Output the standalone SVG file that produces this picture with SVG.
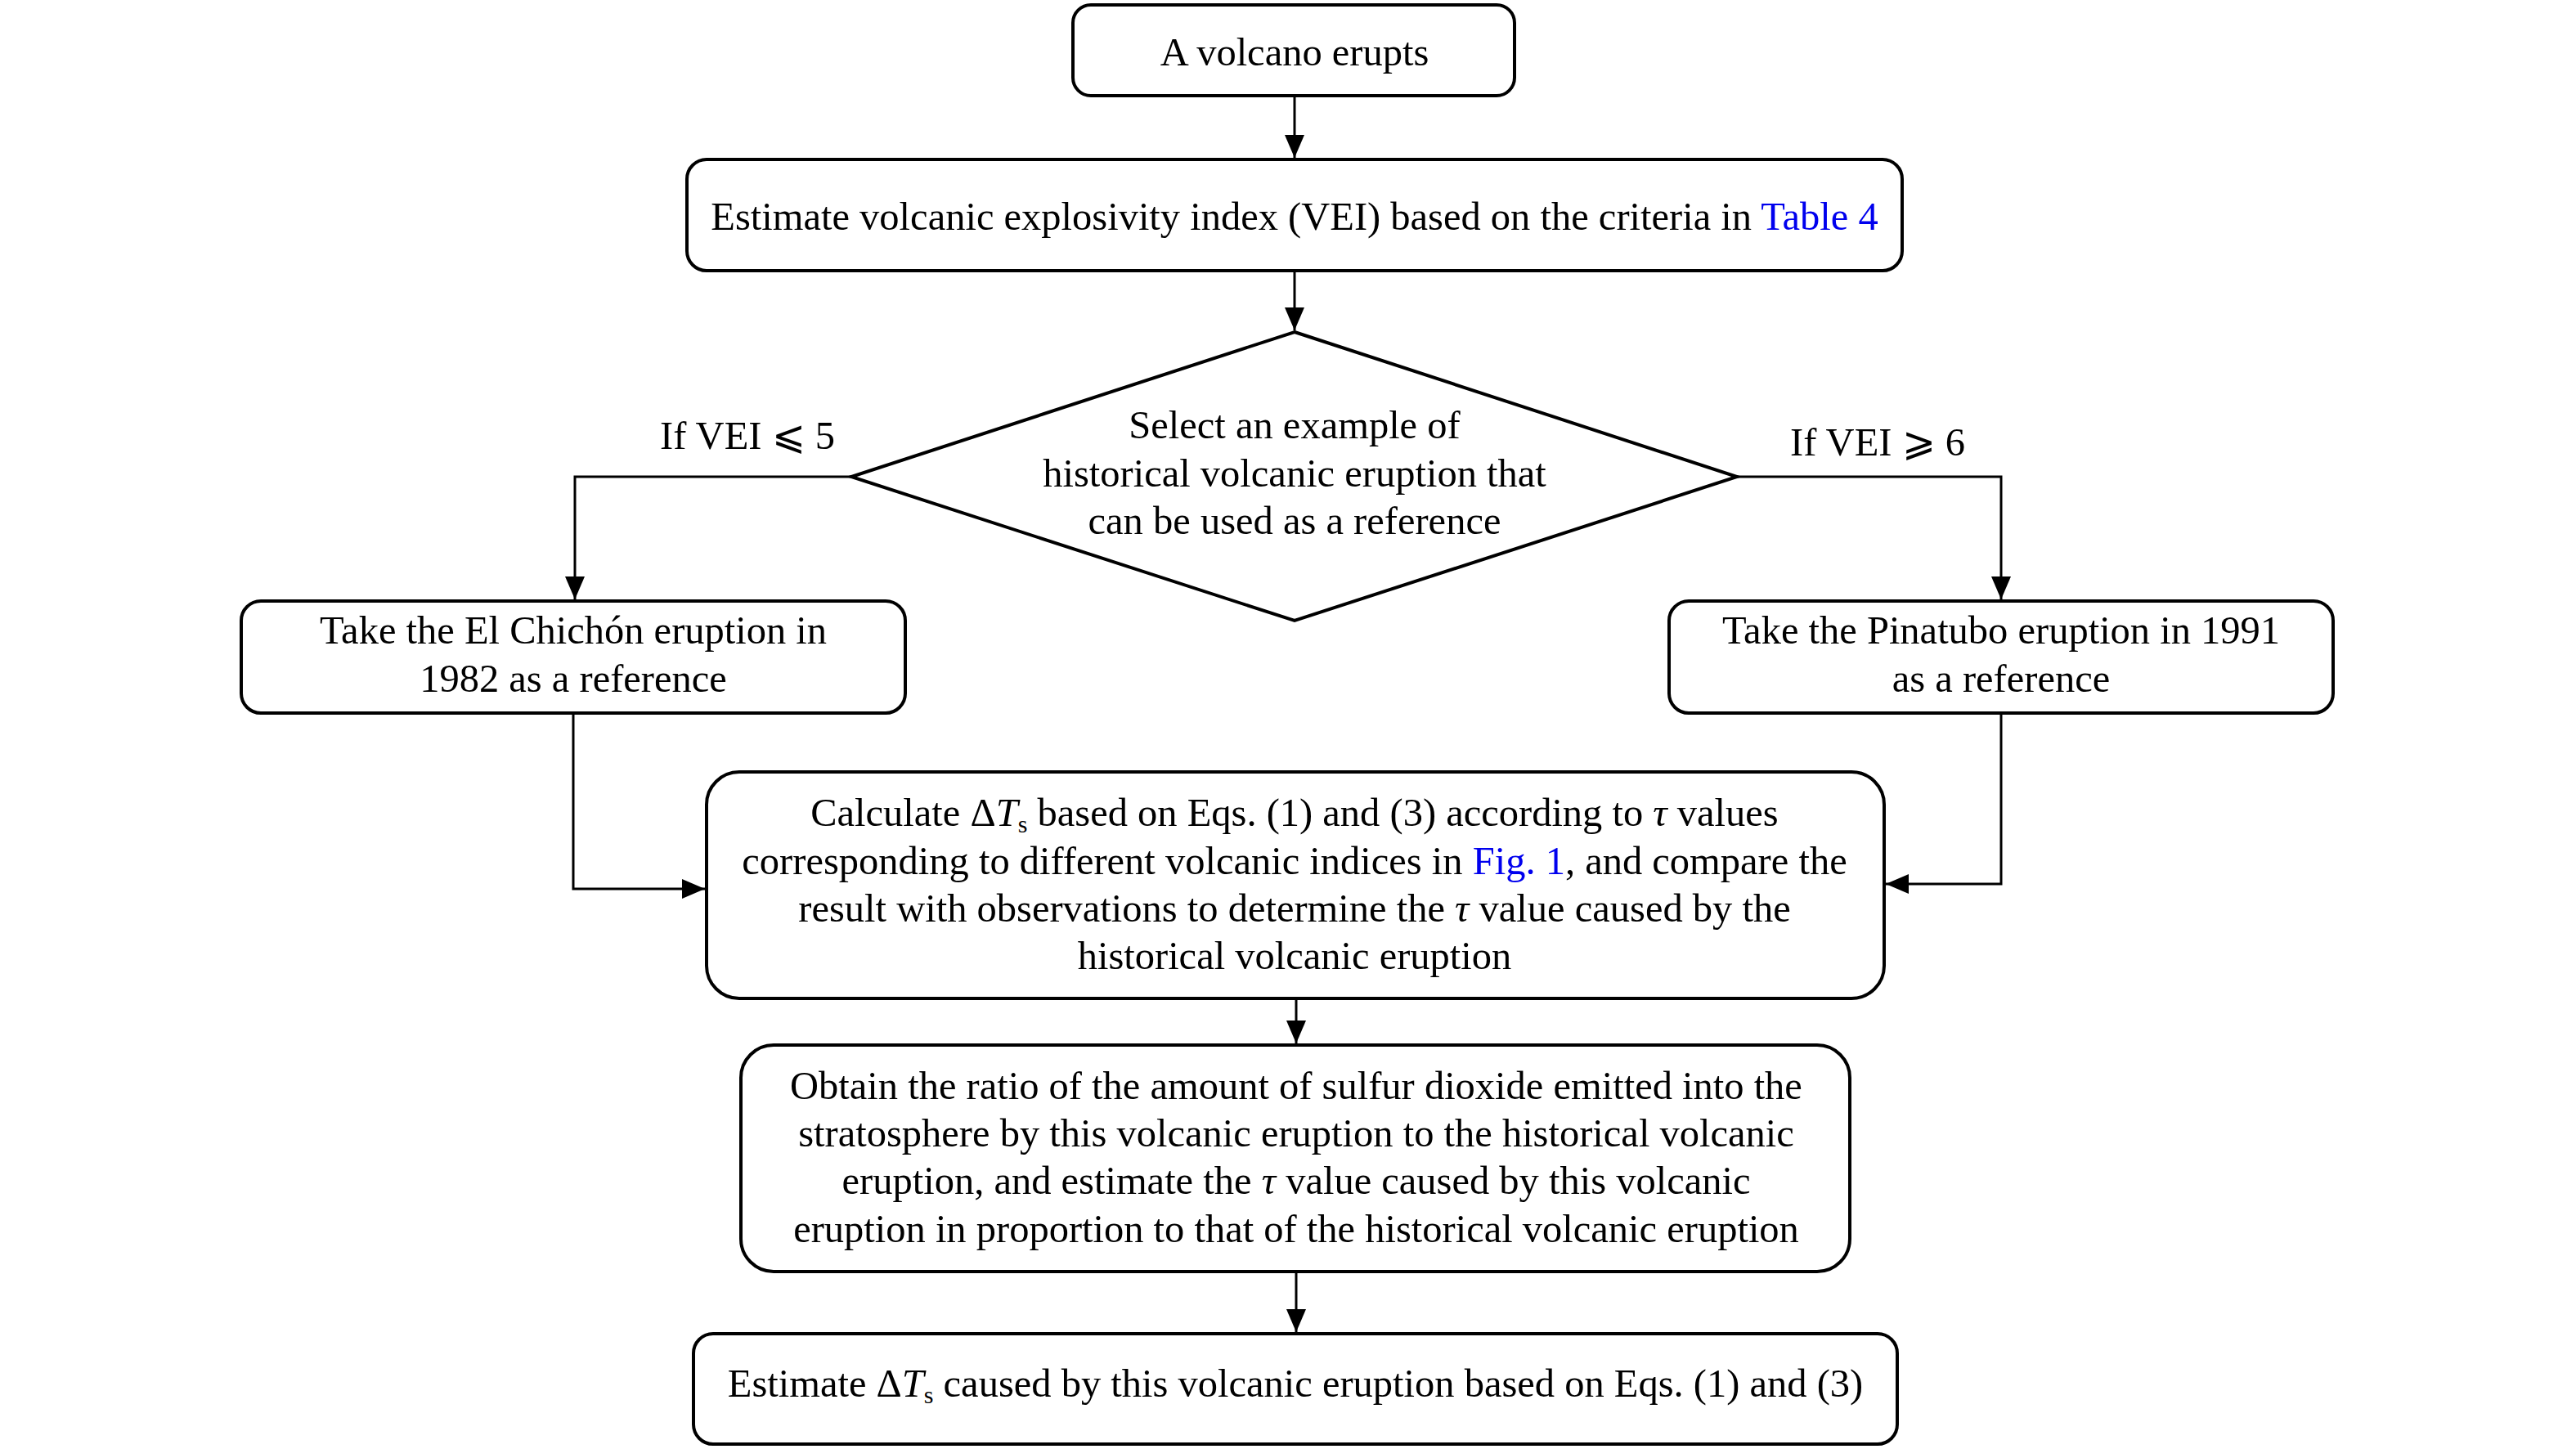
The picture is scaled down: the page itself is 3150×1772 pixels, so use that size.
<svg xmlns="http://www.w3.org/2000/svg" width="3150" height="1772" viewBox="0 0 3150 1772">
<style>
.box{fill:#fff;stroke:#000;stroke-width:4}
.t{font-family:"Liberation Serif","Times New Roman",serif;font-size:48.5px;fill:#000;text-anchor:middle}
.c{fill:none;stroke:#000;stroke-width:3}
.lnk{fill:#0000ee}
.i{font-style:italic}
</style>
<defs>
<marker id="ah" markerUnits="userSpaceOnUse" markerWidth="30" markerHeight="24" refX="28" refY="12" orient="auto">
<path d="M0,0 L28,12 L0,24 Z" fill="#000"/>
</marker>
</defs>
<rect width="3150" height="1772" fill="#fff"/>
<g id="connectors">
<line class="c" x1="1583" y1="117" x2="1583" y2="193" marker-end="url(#ah)"/>
<line class="c" x1="1583" y1="331" x2="1583" y2="404" marker-end="url(#ah)"/>
<polyline class="c" points="1041,583 703,583 703,733" marker-end="url(#ah)"/>
<polyline class="c" points="2124,583 2447,583 2447,733" marker-end="url(#ah)"/>
<polyline class="c" points="701,872 701,1087 862,1087" marker-end="url(#ah)"/>
<polyline class="c" points="2447,872 2447,1081 2306,1081" marker-end="url(#ah)"/>
<line class="c" x1="1585" y1="1221" x2="1585" y2="1276" marker-end="url(#ah)"/>
<line class="c" x1="1585" y1="1555" x2="1585" y2="1629" marker-end="url(#ah)"/>
<text class="t" x="914" y="549">If VEI ⩽ 5</text>
<text class="t" x="2296" y="557">If VEI ⩾ 6</text>
</g>
<g id="n1">
<rect class="box" x="1312" y="6" width="540" height="111" rx="22"/>
<text class="t" x="1583" y="80">A volcano erupts</text>
</g>
<g id="n2">
<rect class="box" x="840" y="195" width="1486" height="136" rx="24"/>
<text class="t" x="1583" y="281">Estimate volcanic explosivity index (VEI) based on the criteria in <tspan class="lnk">Table 4</tspan></text>
</g>
<g id="n3">
<polygon class="box" points="1583,406 2124,583 1583,759 1041,583"/>
<text class="t" x="1583" y="536">Select an example of</text>
<text class="t" x="1583" y="595">historical volcanic eruption that</text>
<text class="t" x="1583" y="653">can be used as a reference</text>
</g>
<g id="n4">
<rect class="box" x="295" y="735" width="812" height="137" rx="24"/>
<text class="t" x="701" y="787">Take the El Chichón eruption in</text>
<text class="t" x="701" y="846">1982 as a reference</text>
</g>
<g id="n5">
<rect class="box" x="2041" y="735" width="812" height="137" rx="24"/>
<text class="t" x="2447" y="787">Take the Pinatubo eruption in 1991</text>
<text class="t" x="2447" y="846">as a reference</text>
</g>
<g id="n6">
<rect class="box" x="864" y="944" width="1440" height="277" rx="40"/>
<text class="t" x="1583" y="1010">Calculate Δ<tspan class="i">T</tspan><tspan font-size="30" dy="8">s</tspan><tspan dy="-8"> based on Eqs. (1) and (3) according to </tspan><tspan class="i">τ</tspan> values</text>
<text class="t" x="1583" y="1069">corresponding to different volcanic indices in <tspan class="lnk">Fig. 1</tspan>, and compare the</text>
<text class="t" x="1583" y="1127">result with observations to determine the <tspan class="i">τ</tspan> value caused by the</text>
<text class="t" x="1583" y="1185">historical volcanic eruption</text>
</g>
<g id="n7">
<rect class="box" x="906" y="1278" width="1356" height="277" rx="40"/>
<text class="t" x="1585" y="1344">Obtain the ratio of the amount of sulfur dioxide emitted into the</text>
<text class="t" x="1585" y="1402">stratosphere by this volcanic eruption to the historical volcanic</text>
<text class="t" x="1585" y="1460">eruption, and estimate the <tspan class="i">τ</tspan> value caused by this volcanic</text>
<text class="t" x="1585" y="1519">eruption in proportion to that of the historical volcanic eruption</text>
</g>
<g id="n8">
<rect class="box" x="848" y="1631" width="1472" height="135" rx="24"/>
<text class="t" x="1584" y="1708">Estimate Δ<tspan class="i">T</tspan><tspan font-size="30" dy="8">s</tspan><tspan dy="-8"> caused by this volcanic eruption based on Eqs. (1) and (3)</tspan></text>
</g>
</svg>
